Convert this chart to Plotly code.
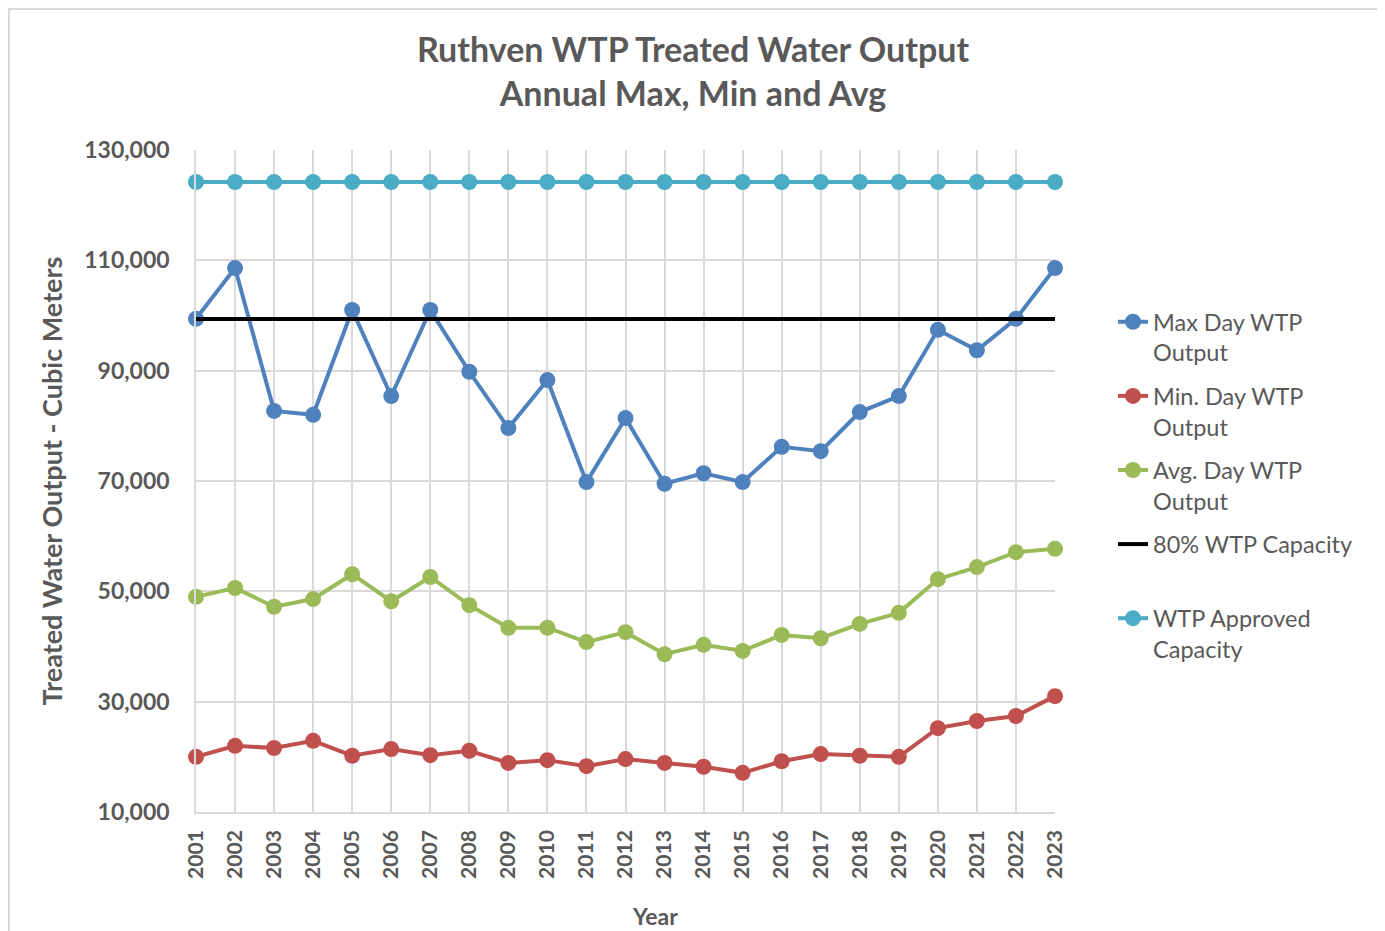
import plotly.graph_objects as go

years = list(range(2001, 2024))
max_day = [99400, 108600, 82700, 82000, 101000, 85400, 101000, 89800, 79600, 88300,
           69800, 81400, 69500, 71400, 69800, 76200, 75400, 82500, 85400, 97400,
           93700, 99400, 108600]
min_day = [20000, 22000, 21600, 22900, 20200, 21400, 20300, 21100, 18900, 19400,
           18300, 19600, 18900, 18200, 17100, 19200, 20500, 20200, 20000, 25200,
           26500, 27400, 31000]
avg_day = [49000, 50600, 47200, 48600, 53100, 48200, 52600, 47500, 43400, 43400,
           40800, 42600, 38600, 40300, 39200, 42100, 41500, 44100, 46100, 52200,
           54400, 57100, 57700]
approved_capacity = [124200] * len(years)
capacity_80 = [0.8 * v for v in approved_capacity]

y_ticks = [10000, 30000, 50000, 70000, 90000, 110000, 130000]

names = ["Max Day WTP<br>Output", "Min. Day WTP<br>Output", "Avg. Day WTP<br>Output",
         "80% WTP Capacity<br> ", "WTP Approved<br>Capacity"]
colors = ["#4F81BD", "#C0504D", "#9BBB59", "#000000", "#4BACC6"]

FONT = "Lato, Calibri, Carlito, sans-serif"
GRAY = "#595959"

# page offset from default body margin (8px)
OFF = 8
PL, PR, PT, PB = 196, 1055, 150, 812  # plot area in page coordinates
W, H = 1385 - OFF, 931 - OFF
pw, ph = PR - PL, PB - PT

fig = go.Figure()
series = [max_day, min_day, avg_day, capacity_80, approved_capacity]
for i, (vals, name, col) in enumerate(zip(series, names, colors)):
    is_ref = (i == 3)
    fig.add_trace(go.Scatter(
        x=years, y=vals, name=name, legendgroup=f"g{i}",
        mode="lines" if is_ref else "lines+markers",
        line=dict(color=col, width=4),
        marker=dict(size=16, color=col),
        cliponaxis=False,
    ))

fig.update_layout(
    width=W, height=H,
    paper_bgcolor="white", plot_bgcolor="white",
    margin=dict(l=PL - OFF, r=OFF + W - PR, t=PT - OFF, b=OFF + H - PB),
    font=dict(family=FONT, color=GRAY),
    title=dict(
        text="<b>Ruthven WTP Treated Water Output<br>Annual Max, Min and Avg</b>",
        x=(693 - OFF) / W, xanchor="center",
        y=1 - (62 - OFF) / H, yanchor="middle",
        font=dict(size=34, color=GRAY, family=FONT),
    ),
    xaxis=dict(
        range=[2001, 2023], tickmode="array", tickvals=years,
        ticktext=[f"<b>{y}</b>" for y in years],
        tickangle=-90, tickfont=dict(size=21, color=GRAY, family=FONT),
        showgrid=True, gridcolor="#D9D9D9", gridwidth=1.5,
        showline=True, linecolor="#D9D9D9", linewidth=1.5,
        ticks="", ticklabelstandoff=8,
        zeroline=False,
    ),
    yaxis=dict(
        range=[10000, 130000], tickmode="array",
        tickvals=y_ticks,
        ticktext=[f"<b>{v:,}</b>" for v in y_ticks],
        tickfont=dict(size=23, color=GRAY, family=FONT),
        showgrid=True, gridcolor="#D9D9D9", gridwidth=1.5,
        showline=True, linecolor="#D9D9D9", linewidth=1.5,
        ticks="", ticklabelstandoff=20,
        title=dict(text="<b>Treated Water Output - Cubic Meters</b>",
                   font=dict(size=27, color=GRAY, family=FONT), standoff=14),
        zeroline=False,
    ),
    legend=dict(
        x=(1113 - PL) / pw, xanchor="left",
        y=(PB - 300) / ph, yanchor="top",
        font=dict(size=23.5, color=GRAY, family=FONT),
        valign="top", tracegroupgap=10,
        bgcolor="rgba(0,0,0,0)",
    ),
    showlegend=True,
)

fig.add_annotation(
    text="<b>Year</b>", xref="paper", yref="paper",
    x=(655 - PL) / pw, y=(PB - 916) / ph, xanchor="center", yanchor="middle",
    showarrow=False, font=dict(size=23, color=GRAY, family=FONT),
)

fig.add_shape(type="rect", xref="paper", yref="paper",
              x0=(9 - PL) / pw, x1=(1380 - PL) / pw,
              y0=(PB - 940) / ph, y1=(PB - 9) / ph,
              line=dict(color="#D9D9D9", width=2), fillcolor="rgba(0,0,0,0)", layer="below")

fig.write_html("out.html")
